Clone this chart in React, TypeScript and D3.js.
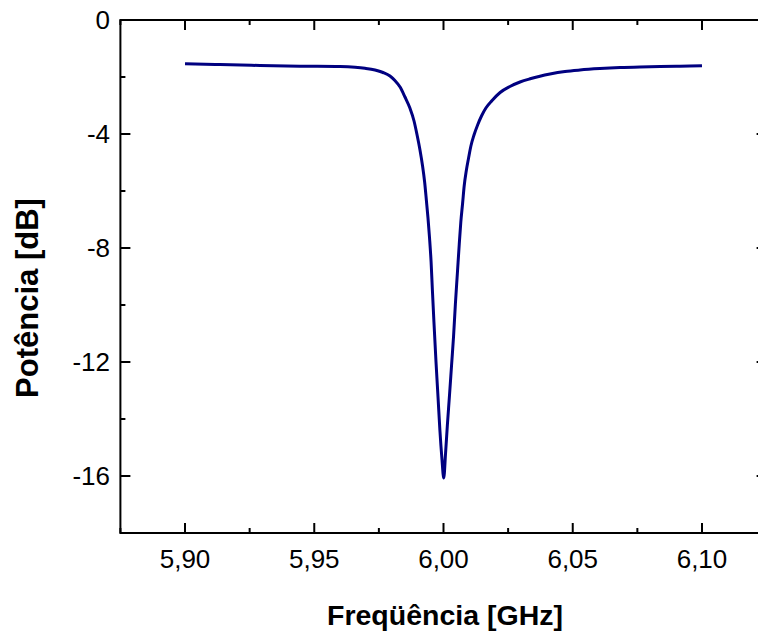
import React from "react";
import * as d3 from "d3";

const freqGHz: number[] = [
  5.9, 5.9135, 5.929, 5.9445, 5.96, 5.9658, 5.9696, 5.9735, 5.9766, 5.9793,
  5.9812, 5.9832, 5.9851, 5.987, 5.9886, 5.9897, 5.9909, 5.9919, 5.9927, 5.9934,
  5.994, 5.9946, 5.9952, 5.9957, 5.9963, 5.9971, 5.9979, 5.9986, 5.9994, 6.0001,
  6.0008, 6.0015, 6.0023, 6.0031, 6.0039, 6.0046, 6.0054, 6.0061, 6.0067, 6.0074,
  6.008, 6.0088, 6.0097, 6.0106, 6.0118, 6.0132, 6.0147, 6.0164, 6.0188, 6.0219,
  6.0257, 6.0296, 6.0335, 6.0373, 6.0412, 6.047, 6.0528, 6.0605, 6.0683, 6.076,
  6.0838, 6.0915, 6.1,
];
const powerDb: number[] = [
  -1.533, -1.565, -1.596, -1.621, -1.635, -1.66, -1.695, -1.754, -1.842, -1.965,
  -2.123, -2.351, -2.702, -3.088, -3.544, -4.0, -4.561, -5.123, -5.684, -6.351,
  -6.947, -7.649, -8.491, -9.474, -10.596, -12.0, -13.263, -14.386, -15.404, -16.07,
  -15.193, -14.211, -13.193, -12.14, -11.088, -9.965, -8.842, -7.86, -7.088, -6.421,
  -5.825, -5.298, -4.842, -4.421, -4.035, -3.684, -3.368, -3.088, -2.825, -2.544,
  -2.333, -2.175, -2.063, -1.972, -1.895, -1.807, -1.754, -1.705, -1.67, -1.649,
  -1.635, -1.621, -1.604,
];
const xMajorTicks: number[] = [5.9, 5.95, 6.0, 6.05, 6.1];
const xMinorTicks: number[] = [5.875, 5.925, 5.975, 6.025, 6.075, 6.125];
const xTickLabels: string[] = ["5,90", "5,95", "6,00", "6,05", "6,10"];
const yMajorTicks: number[] = [0, -4, -8, -12, -16];
const yMinorTicks: number[] = [-2, -6, -10, -14, -18];
const yTickLabels: string[] = ["0", "-4", "-8", "-12", "-16"];

export default function App() {
  const W = 758;
  const H = 634;
  const x = d3.scaleLinear().domain([5.875, 6.125]).range([120.4, 766.6]);
  const y = d3.scaleLinear().domain([-18, 0]).range([533, 20]);
  const pts = freqGHz.map((f, i) => [f, powerDb[i]] as [number, number]);
  const line = d3
    .line<[number, number]>()
    .x((d) => x(d[0]))
    .y((d) => y(d[1]))
    .curve(d3.curveMonotoneX);
  const x0 = x.range()[0];
  const x1 = x.range()[1];
  const y0 = y.range()[0];
  const y1 = y.range()[1];
  const major = 10;
  const minor = 5;
  const font = "Arial, 'Liberation Sans', sans-serif";
  return (
    <svg
      width={W}
      height={H}
      style={{ position: "absolute", left: 0, top: 0, background: "#fff" }}
    >
      <path
        d={line(pts) || ""}
        fill="none"
        stroke="#000080"
        strokeWidth={3}
        strokeLinejoin="round"
      />
      <g stroke="#000" strokeWidth={2} fill="none">
        <rect x={x0} y={y1} width={x1 - x0} height={y0 - y1} />
        {xMajorTicks.map((t) => (
          <g key={"xm" + t}>
            <line x1={x(t)} x2={x(t)} y1={y0} y2={y0 - major} />
            <line x1={x(t)} x2={x(t)} y1={y1} y2={y1 + major} />
          </g>
        ))}
        {xMinorTicks.map((t) => (
          <g key={"xn" + t}>
            <line x1={x(t)} x2={x(t)} y1={y0} y2={y0 - minor} />
            <line x1={x(t)} x2={x(t)} y1={y1} y2={y1 + minor} />
          </g>
        ))}
        {yMajorTicks.map((t) => (
          <g key={"ym" + t}>
            <line x1={x0} x2={x0 + major} y1={y(t)} y2={y(t)} />
            <line x1={x1} x2={x1 - major} y1={y(t)} y2={y(t)} />
          </g>
        ))}
        {yMinorTicks.map((t) => (
          <g key={"yn" + t}>
            <line x1={x0} x2={x0 + minor} y1={y(t)} y2={y(t)} />
            <line x1={x1} x2={x1 - minor} y1={y(t)} y2={y(t)} />
          </g>
        ))}
      </g>
      <g fontFamily={font} fontSize={26} fill="#000">
        {xMajorTicks.map((t, i) => (
          <text key={"xl" + t} x={x(t)} y={568} textAnchor="middle">
            {xTickLabels[i]}
          </text>
        ))}
        {yMajorTicks.map((t, i) => (
          <text key={"yl" + t} x={110} y={y(t) + 9} textAnchor="end">
            {yTickLabels[i]}
          </text>
        ))}
      </g>
      <text
        x={445}
        y={625}
        textAnchor="middle"
        fontFamily={font}
        fontSize={28.5}
        fontWeight="bold"
      >
        Freqüência [GHz]
      </text>
      <text
        transform="translate(38,298) rotate(-90)"
        textAnchor="middle"
        fontFamily={font}
        fontSize={31}
        fontWeight="bold"
      >
        Potência [dB]
      </text>
    </svg>
  );
}
